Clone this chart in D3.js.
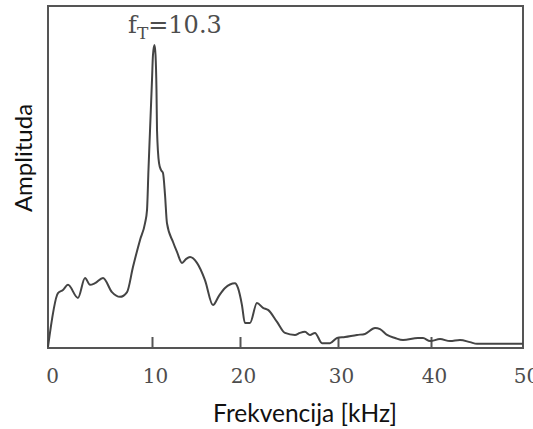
<!DOCTYPE html>
<html>
<head>
<meta charset="utf-8">
<script src="https://cdn.jsdelivr.net/npm/d3@7"></script>
<style>
    html, body { margin: 0; padding: 0; background: #fff; }
    svg { display: block; }
</style>
</head>
<body>
<div id="chart"></div>
<script>
'use strict';

/* Spectrum data */
const freqKHz = [0, 0.96, 1.44, 1.92, 2.88, 3.56, 4.04, 4.52, 5.29, 6.15, 6.92, 7.6, 8.17, 8.85, 9.33, 9.52,
    9.66, 9.81, 10.0, 10.11, 10.28, 10.4, 10.51, 10.57, 10.8, 11.02, 11.25, 11.48, 11.7, 12.39, 12.84, 13.41,
    13.86, 14.32, 15.11, 16.02, 16.93, 17.61, 18.3, 19.43, 19.77, 20.2, 20.5, 21.02, 21.73, 22.35, 22.86,
    23.78, 24.59, 25.61, 26.12, 26.63, 27.14, 27.65, 28.37, 29.18, 29.9, 30.75, 32.04, 32.9, 33.98, 34.52,
    35.27, 36.13, 36.99, 38.6, 39.14, 39.9, 40.98, 42.07, 43.15, 44.24, 45.0, 46.41, 50];
const amplitude = [0.6, 16.3, 17.2, 18.7, 14.9, 20.7, 18.7, 19.2, 20.7, 16.6, 15.2, 16.6, 23.9, 31.8, 36.7, 40.5,
    52.2, 63.8, 78.4, 85.7, 88.6, 85.7, 75.5, 63.8, 54.2, 52.2, 51.3, 44.9, 36.7, 31.2, 28.3, 25.1,
    26.2, 26.8, 25.1, 20.1, 12.8, 15.5, 17.8, 19.2, 17.8, 12.8, 7.6, 7.6, 13.4, 12.0, 11.4,
    7.9, 4.7, 4.1, 4.7, 5.0, 4.1, 4.7, 1.7, 1.7, 3.2, 3.5, 4.1, 4.4, 6.1, 5.8,
    4.1, 3.2, 2.6, 3.2, 3.2, 2.3, 2.9, 2.3, 2.6, 2.0, 1.5, 1.5, 1.5];
const xTicks = [0, 10, 20, 30, 40, 50];
const peakLabel = 'f';
const peakSub = 'T';
const peakValue = '=10.3';

const W = 533, H = 429;
const M = { left: 48, right: 523, top: 6, bottom: 348 };

const svg = d3.select('#chart').append('svg')
    .attr('width', W).attr('height', H).attr('viewBox', `0 0 ${W} ${H}`);

/* the scan is slightly stretched, so x is calibrated per decade */
const x = d3.scaleLinear().domain(xTicks).range([48, 152, 240, 338, 431, 523]);
const y = d3.scaleLinear().domain([0, 100]).range([M.bottom + 1, M.top]);

const ink = '#444';
const serif = '"DejaVu Serif", "Liberation Serif", serif';
const sans = 'Lato, "Open Sans", sans-serif';

/* frame */
svg.append('rect')
    .attr('x', M.left).attr('y', M.top)
    .attr('width', M.right - M.left).attr('height', M.bottom - M.top)
    .attr('fill', 'none').attr('stroke', '#555').attr('stroke-width', 2);

/* inward ticks on bottom edge */
const xAxis = d3.axisBottom(x).tickValues(xTicks).tickSizeInner(-11).tickSizeOuter(0).tickPadding(21);
const gx = svg.append('g').attr('transform', `translate(0,${M.bottom})`).call(xAxis);
gx.select('.domain').remove();
gx.selectAll('.tick line').attr('stroke', '#555').attr('stroke-width', 2)
    .attr('display', d => (d === 0 || d === 50) ? 'none' : null);
gx.selectAll('.tick text')
    .attr('font-family', serif)
    .attr('font-size', 20).attr('fill', '#4d4d4d')
    .attr('dx', d => d === 0 ? 4 : 3);

/* spectrum */
const pts = freqKHz.map((f, i) => [f, amplitude[i]]);
const line = d3.line().x(d => x(d[0])).y(d => y(d[1])).curve(d3.curveMonotoneX);
svg.append('path').datum(pts)
    .attr('d', line)
    .attr('fill', 'none').attr('stroke', ink).attr('stroke-width', 2)
    .attr('stroke-linejoin', 'round');

/* peak annotation */
const ann = svg.append('text')
    .attr('x', 128).attr('y', 33)
    .attr('font-family', serif)
    .attr('font-size', 24).attr('fill', '#4d4d4d');
ann.append('tspan').text(peakLabel);
ann.append('tspan').attr('font-size', 17).attr('dy', 6).text(peakSub);
ann.append('tspan').attr('dy', -6).text(peakValue);

/* axis titles */
svg.append('text')
    .attr('transform', 'translate(32,158) rotate(-90)')
    .attr('text-anchor', 'middle')
    .attr('font-family', sans)
    .attr('font-size', 24).attr('fill', '#111')
    .text('Amplituda');

svg.append('text')
    .attr('x', 305).attr('y', 422)
    .attr('text-anchor', 'middle')
    .attr('font-family', sans)
    .attr('font-size', 24.5).attr('fill', '#111')
    .text('Frekvencija [kHz]');
</script>
</body>
</html>
